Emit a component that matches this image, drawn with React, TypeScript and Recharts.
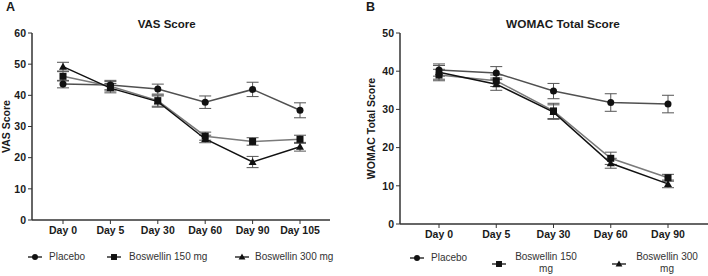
import React from "react";
import { LineChart, Line, XAxis, YAxis, ErrorBar } from "recharts";

// Panel A – VAS
const vasDays = ["Day 0", "Day 5", "Day 30", "Day 60", "Day 90", "Day 105"];
const vasPlacebo = [43.6, 43.3, 42.0, 37.8, 41.9, 35.2];
const vasPlaceboErr = [1.2, 1.5, 1.6, 2.0, 2.3, 2.4];
const vasB150 = [46.1, 42.9, 38.3, 26.9, 25.2, 25.9];
const vasB150Err = [1.5, 1.5, 1.8, 1.3, 1.2, 1.3];
const vasB300 = [49.2, 42.3, 38.0, 26.0, 18.6, 23.5];
const vasB300Err = [1.4, 1.5, 1.8, 1.2, 1.8, 1.4];
const vasTicks = [0, 10, 20, 30, 40, 50, 60];

// Panel B – WOMAC
const womacDays = ["Day 0", "Day 5", "Day 30", "Day 60", "Day 90"];
const womacPlacebo = [40.3, 39.5, 34.8, 31.8, 31.4];
const womacPlaceboErr = [1.6, 1.7, 2.0, 2.3, 2.3];
const womacB150 = [39.0, 37.5, 29.6, 17.2, 12.1];
const womacB150Err = [1.5, 1.5, 2.0, 1.6, 0.9];
const womacB300 = [39.7, 36.6, 29.3, 15.9, 10.5];
const womacB300Err = [1.8, 1.6, 1.9, 1.3, 1.0];
const womacTicks = [0, 10, 20, 30, 40, 50];

const FONT = "'Liberation Sans', Arial, sans-serif";

const vasData = vasDays.map((d, i) => ({
  day: d,
  p: vasPlacebo[i], pe: vasPlaceboErr[i],
  b1: vasB150[i], b1e: vasB150Err[i],
  b3: vasB300[i], b3e: vasB300Err[i],
}));

const womacData = womacDays.map((d, i) => ({
  day: d,
  p: womacPlacebo[i], pe: womacPlaceboErr[i],
  b1: womacB150[i], b1e: womacB150Err[i],
  b3: womacB300[i], b3e: womacB300Err[i],
}));

type Shape = "circle" | "square" | "triangle";

const Marker = ({ cx, cy, shape, s = 1 }: { cx: number; cy: number; shape: Shape; s?: number }) => {
  if (cx == null || cy == null) return null;
  if (shape === "circle") return <circle cx={cx} cy={cy} r={3.5 * s} fill="#111" />;
  if (shape === "square") return <rect x={cx - 3.5 * s} y={cy - 3.5 * s} width={7 * s} height={7 * s} fill="#111" />;
  return <polygon points={`${cx},${cy - 4 * s} ${cx - 4 * s},${cy + 3 * s} ${cx + 4 * s},${cy + 3 * s}`} fill="#111" />;
};

const dotFor = (shape: Shape) => (props: any) => (
  <Marker key={`${shape}-${props.index}`} cx={props.cx} cy={props.cy} shape={shape} />
);

const series = [
  { key: "p", err: "pe", name: "Placebo", color: "#505050", shape: "circle" as Shape },
  { key: "b1", err: "b1e", name: "Boswellin 150 mg", color: "#7a7a7a", shape: "square" as Shape },
  { key: "b3", err: "b3e", name: "Boswellin 300 mg", color: "#111111", shape: "triangle" as Shape },
];

const tickStyle = { fontSize: 10.5, fontWeight: 700, fill: "#1a1a1a", fontFamily: FONT };

const LegendIcon = ({ shape }: { shape: Shape }) => (
  <svg width={14} height={10} style={{ display: "block" }}>
    <line x1={0} y1={5} x2={14} y2={5} stroke="#111" strokeWidth={1.3} />
    <Marker cx={7} cy={5} shape={shape} s={0.85} />
  </svg>
);

const Panel = ({
  data, ticks, max, yLabel, labelOffset, yWidth, right, padL, padR, bottom,
}: any) => (
  <LineChart
    width={354}
    height={276}
    data={data}
    margin={{ top: 33, right, bottom, left: 0 }}
    style={{ fontFamily: FONT }}
  >
    <XAxis
      dataKey="day"
      padding={{ left: padL, right: padR }}
      tick={tickStyle}
      tickSize={4}
      tickMargin={3}
      height={20}
      interval={0}
      axisLine={{ stroke: "#333", strokeWidth: 1.5 }}
      tickLine={{ stroke: "#333" }}
    />
    <YAxis
      domain={[0, max]}
      ticks={ticks}
      width={yWidth}
      tick={tickStyle}
      tickSize={4}
      axisLine={{ stroke: "#333", strokeWidth: 1.5 }}
      tickLine={{ stroke: "#333" }}
      label={{
        value: yLabel,
        angle: -90,
        position: "insideLeft",
        offset: labelOffset,
        style: { textAnchor: "middle", fontSize: 10.5, fontWeight: 700, fill: "#1a1a1a", fontFamily: FONT },
      }}
    />
    {series.map((s) => (
      <Line
        key={s.key}
        dataKey={s.key}
        name={s.name}
        stroke={s.color}
        strokeWidth={1.5}
        dot={dotFor(s.shape)}
        activeDot={false}
        isAnimationActive={false}
      >
        <ErrorBar dataKey={s.err} width={6} stroke="#555" strokeWidth={1} />
      </Line>
    ))}
  </LineChart>
);

const textBase: React.CSSProperties = {
  position: "absolute",
  fontFamily: FONT,
  color: "#1a1a1a",
  whiteSpace: "nowrap",
};

const App = () => {
  return (
    <div style={{ position: "absolute", left: 0, top: 0, width: 708, height: 276, background: "#fff", fontFamily: FONT }}>
      <div style={{ position: "absolute", left: 0, top: 0 }}>
        <Panel data={vasData} ticks={vasTicks} max={60} yLabel="VAS Score" labelOffset={6}
          yWidth={32} right={24} padL={31} padR={30} bottom={36} />
      </div>
      <div style={{ position: "absolute", left: 354, top: 0 }}>
        <Panel data={womacData} ticks={womacTicks} max={50} yLabel="WOMAC Total Score" labelOffset={17}
          yWidth={46} right={0} padL={39} padR={40} bottom={32} />
      </div>

      <div style={{ ...textBase, left: 6, top: 0, fontSize: 12.5, fontWeight: 700, lineHeight: "14px" }}>A</div>
      <div style={{ ...textBase, left: 366, top: 0, fontSize: 12.5, fontWeight: 700, lineHeight: "14px" }}>B</div>

      <div style={{ ...textBase, left: 166.7, top: 17, transform: "translateX(-50%)", fontSize: 11.5, fontWeight: 700, lineHeight: "14px" }}>VAS Score</div>
      <div style={{ ...textBase, left: 563, top: 17, transform: "translateX(-50%)", fontSize: 11.8, fontWeight: 700, lineHeight: "14px" }}>WOMAC Total Score</div>

      {/* legend A */}
      {[
        { x: 28, tx: 49, i: 0 },
        { x: 107, tx: 129, i: 1 },
        { x: 235, tx: 255, i: 2 },
      ].map((l) => (
        <React.Fragment key={`la${l.i}`}>
          <div style={{ position: "absolute", left: l.x, top: 252 }}><LegendIcon shape={series[l.i].shape} /></div>
          <div style={{ ...textBase, left: l.tx, top: 250, fontSize: 10, lineHeight: "13px", color: "#333" }}>{series[l.i].name}</div>
        </React.Fragment>
      ))}

      {/* legend B */}
      <div style={{ position: "absolute", left: 410, top: 253 }}><LegendIcon shape="circle" /></div>
      <div style={{ ...textBase, left: 431, top: 251, fontSize: 10, lineHeight: "13px", color: "#333" }}>Placebo</div>
      <div style={{ position: "absolute", left: 492, top: 259 }}><LegendIcon shape="square" /></div>
      <div style={{ ...textBase, left: 513, top: 251, width: 66, textAlign: "center", whiteSpace: "normal", fontSize: 10, lineHeight: "11.5px", color: "#333" }}>Boswellin 150 mg</div>
      <div style={{ position: "absolute", left: 612, top: 259 }}><LegendIcon shape="triangle" /></div>
      <div style={{ ...textBase, left: 633, top: 251, width: 68, textAlign: "center", whiteSpace: "normal", fontSize: 10, lineHeight: "11.5px", color: "#333" }}>Boswellin 300 mg</div>
    </div>
  );
};

export default App;
